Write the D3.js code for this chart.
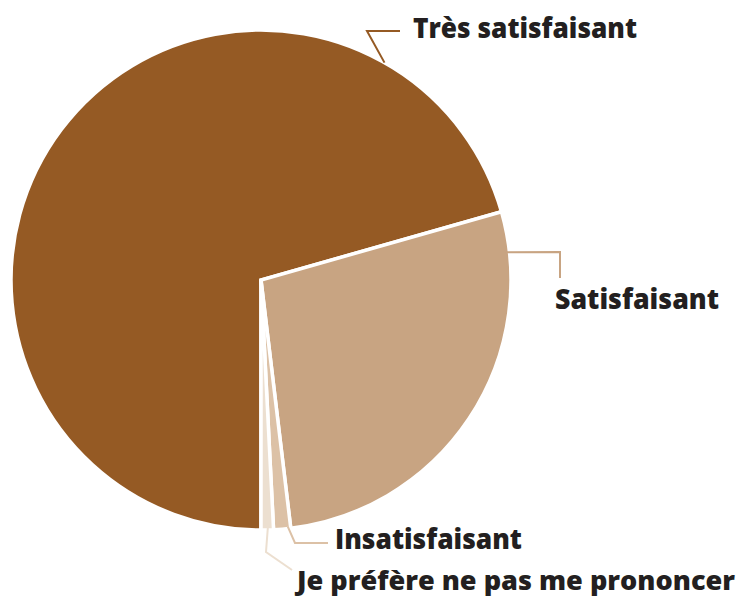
<!DOCTYPE html>
<html>
<head>
<meta charset="utf-8">
<script src="https://cdn.jsdelivr.net/npm/d3@7"></script>
<style>
  html, body { margin: 0; padding: 0; background: #fff; }
  svg { display: block; }
</style>
</head>
<body>
<svg id="chart" width="745" height="605"></svg>
<script>
// Data
const categories = ["Très satisfaisant", "Satisfaisant", "Insatisfaisant", "Je préfère ne pas me prononcer"];
const values = [70.6, 27.5, 1.1, 0.8];
const colors = ["#955a24", "#c8a482", "#dcc1a6", "#ecdfd0"];

// Layout
const cx = 261, cy = 280, R = 250;
const svg = d3.select("#chart");
const g = svg.append("g").attr("transform", `translate(${cx},${cy})`);

const pie = d3.pie().sort(null).value(d => d.v)
  .startAngle(Math.PI).endAngle(3 * Math.PI);
const arcs = pie(categories.map((c, i) => ({ c, v: values[i], col: colors[i] })));
const arc = d3.arc().innerRadius(0).outerRadius(R);

g.selectAll("path.slice").data(arcs).enter().append("path")
  .attr("class", "slice")
  .attr("d", arc)
  .attr("fill", d => d.data.col)
  .attr("stroke", "#fff")
  .attr("stroke-width", 3.5)
  .attr("stroke-linejoin", "miter");

// Leader lines and labels (layout: anchor angle in degrees, radius, elbow/end points, label pos)
const labelLayout = [
  { ang: 29.6, r: 250, pts: [[367, 31], [400, 31]], lx: 413, ly: 38, w: 224, fs: 28 },
  { ang: 83.5, r: 246, pts: [[560, 252], [560, 278]], lx: 555, ly: 309, w: 164, fs: 28 },
  { ang: 173.8, r: 248, pts: [[295, 543], [328, 543]], lx: 335, ly: 549, w: 187, fs: 28 },
  { ang: 178.4, r: 247, pts: [[266, 552], [292, 570]], lx: 297, ly: 590, w: 438, fs: 26 }
];

const line = d3.line();
arcs.forEach((d, i) => {
  const L = labelLayout[i];
  const a = L.ang * Math.PI / 180;
  const start = [cx + L.r * Math.sin(a), cy - L.r * Math.cos(a)];
  svg.append("path")
    .attr("d", line([start, ...L.pts]))
    .attr("fill", "none")
    .attr("stroke", d.data.col)
    .attr("stroke-width", 2);
  svg.append("text")
    .attr("x", L.lx).attr("y", L.ly)
    .attr("font-family", "'Open Sans', 'Noto Sans', sans-serif")
    .attr("font-weight", 800)
    .attr("font-size", L.fs)
    .attr("fill", "#231f20")
    .attr("textLength", L.w)
    .attr("lengthAdjust", "spacingAndGlyphs")
    .text(d.data.c);
});
</script>
</body>
</html>
